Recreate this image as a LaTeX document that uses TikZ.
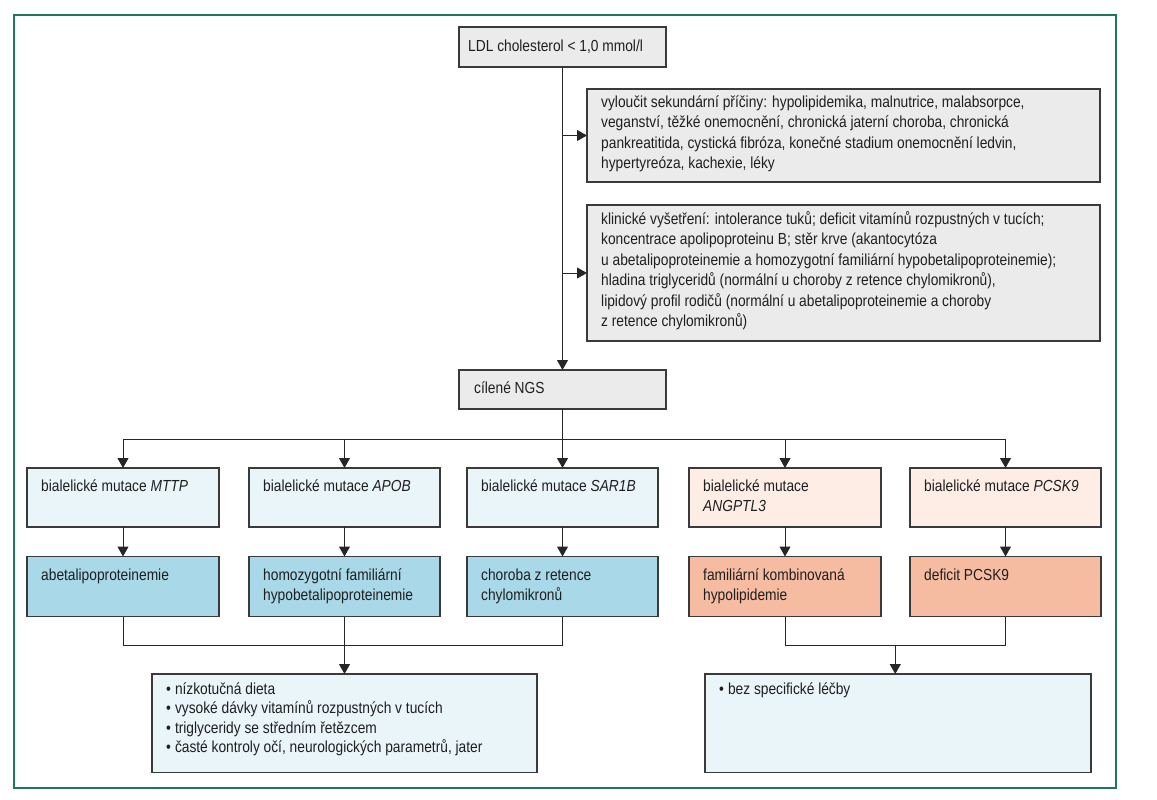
\documentclass[tikz,border=0pt]{standalone}
\usepackage{fontspec}
\setmainfont{Liberation Sans}[FakeStretch=0.86]
\usetikzlibrary{arrows.meta,calc}
\definecolor{frameg}{HTML}{1B7A55}
\definecolor{edgec}{HTML}{3A3A3A}
\definecolor{grayf}{HTML}{EBEBEC}
\definecolor{lblue}{HTML}{EAF5F9}
\definecolor{dblue}{HTML}{A9D9E8}
\definecolor{lsalm}{HTML}{FDEDE5}
\definecolor{dsalm}{HTML}{F6BCA1}
\newcommand\mkbox[6]{\node[boxx,#6,minimum width={#4pt-#2pt},minimum height={#5pt-#3pt}] (#1) at ({(#2+#4)/2},{(#3+#5)/2}) {};}
\begin{document}
\begin{tikzpicture}[x=1pt,y=-1pt,
  boxx/.style={draw=edgec,line width=1.1pt,inner sep=0pt,outer sep=0pt,rectangle},
  gtxt/.style={anchor=north west,inner sep=0pt,align=left,text=black!88,font=\fontsize{16}{20.5}\selectfont},
  ctxt/.style={anchor=north west,inner sep=0pt,align=left,text=black!88,font=\fontsize{16}{20}\selectfont},
  ttxt/.style={anchor=north west,inner sep=0pt,align=left,text=black!88,font=\fontsize{16}{19.5}\selectfont},
  conn/.style={draw=black!85,line width=1pt},
  arr/.style={conn,-{Triangle[length=10pt,width=11pt]}}]
\useasboundingbox (0,0) rectangle (1157,800);
\draw[frameg,line width=1.2pt] (14,15) rectangle (1116,788);
% boxes
\mkbox{ldl}{459}{27}{666}{67}{fill=grayf}
\mkbox{sec}{587}{89}{1100}{182}{fill=grayf}
\mkbox{kli}{587}{205}{1100}{341}{fill=grayf}
\mkbox{ngs}{459}{370}{666}{409}{fill=grayf}
\mkbox{ra}{27}{468}{219}{527}{fill=lblue}
\mkbox{rb}{249}{468}{440}{527}{fill=lblue}
\mkbox{rc}{467}{468}{658}{527}{fill=lblue}
\mkbox{rd}{689}{468}{881}{527}{fill=lsalm}
\mkbox{re}{910}{468}{1101}{527}{fill=lsalm}
\mkbox{sa}{27}{556.5}{219}{616.5}{fill=dblue}
\mkbox{sb}{249}{556.5}{440}{616.5}{fill=dblue}
\mkbox{sc}{467}{556.5}{658}{616.5}{fill=dblue}
\mkbox{sd}{689}{556.5}{881}{616.5}{fill=dsalm}
\mkbox{se}{910}{556.5}{1101}{616.5}{fill=dsalm}
\mkbox{tl}{152}{674}{537}{772.5}{fill=lblue}
\mkbox{tr}{705}{674}{1091}{772.5}{fill=lblue}
% texts
\node[gtxt] (ldlt) at (468,36.8) {\strut LDL cholesterol < 1,0 mmol/l};
\node[gtxt] (sect) at (601,92.8) {\strut vyloučit sekundární příčiny: hypolipidemika, malnutrice, malabsorpce,\\veganství, těžké onemocnění, chronická jaterní choroba, chronická\\pankreatitida, cystická fibróza, konečné stadium onemocnění ledvin,\\hypertyreóza, kachexie, léky};
\node[gtxt] (klit) at (601,209.8) {\strut klinické vyšetření: intolerance tuků; deficit vitamínů rozpustných v tucích;\\koncentrace apolipoproteinu B; stěr krve (akantocytóza\\u abetalipoproteinemie a homozygotní familiární hypobetalipoproteinemie);\\hladina triglyceridů (normální u choroby z retence chylomikronů),\\lipidový profil rodičů (normální u abetalipoproteinemie a choroby\\z retence chylomikronů)};
\node[gtxt] (ngst) at (474,378.8) {\strut cílené NGS};
\node[ctxt] (rat) at (41,477.2) {\strut bialelické mutace \textit{MTTP}};
\node[ctxt] (rbt) at (263,477.2) {\strut bialelické mutace \textit{APOB}};
\node[ctxt] (rct) at (481,477.2) {\strut bialelické mutace \textit{SAR1B}};
\node[ctxt] (rdt) at (703,477.2) {\strut bialelické mutace\\\textit{ANGPTL3}};
\node[ctxt] (ret) at (924,477.2) {\strut bialelické mutace \textit{PCSK9}};
\node[ctxt] (sat) at (41,566.7) {\strut abetalipoproteinemie};
\node[ctxt] (sbt) at (263,566.7) {\strut homozygotní familiární\\hypobetalipoproteinemie};
\node[ctxt] (sct) at (481,566.7) {\strut choroba z retence\\chylomikronů};
\node[ctxt] (sdt) at (703,566.7) {\strut familiární kombinovaná\\hypolipidemie};
\node[ctxt] (set) at (924,566.7) {\strut deficit PCSK9};
\node[ttxt] (tlt) at (166,680.5) {\strut\textbullet\hspace{4pt}nízkotučná dieta\\\textbullet\hspace{4pt}vysoké dávky vitamínů rozpustných v tucích\\\textbullet\hspace{4pt}triglyceridy se středním řetězcem\\\textbullet\hspace{4pt}časté kontroly očí, neurologických parametrů, jater};
\node[ttxt] (trt) at (719,680.5) {\strut\textbullet\hspace{4pt}bez specifické léčby};
% connectors
\draw[arr] (ldl.south) -- (ngs.north);
\draw[arr] (ldl.south |- sec.west) -- (sec.west);
\draw[arr] (ldl.south |- kli.west) -- (kli.west);
\draw[conn] (ngs.south) -- ++(0,30) coordinate (hub);
\draw[conn] (ra.north |- hub) -- (re.north |- hub);
\foreach \n in {ra,rb,rc,rd,re} \draw[arr] (\n.north |- hub) -- (\n.north);
\draw[arr] (ra.south) -- (sa.north);
\draw[arr] (rb.south) -- (sb.north);
\draw[arr] (rc.south) -- (sc.north);
\draw[arr] (rd.south) -- (sd.north);
\draw[arr] (re.south) -- (se.north);
\coordinate (lbar) at (0,645);
\draw[conn] (sa.south) -- (sa.south |- lbar) -- (sc.south |- lbar) -- (sc.south);
\draw[arr] (sb.south) -- (tl.north);
\draw[conn] (sd.south) -- (sd.south |- lbar) -- (se.south |- lbar) -- (se.south);
\coordinate (rmid) at ($(sd.south |- lbar)!0.5!(se.south |- lbar)$);
\draw[arr] (rmid) -- (rmid |- tr.north);
\end{tikzpicture}
\end{document}
